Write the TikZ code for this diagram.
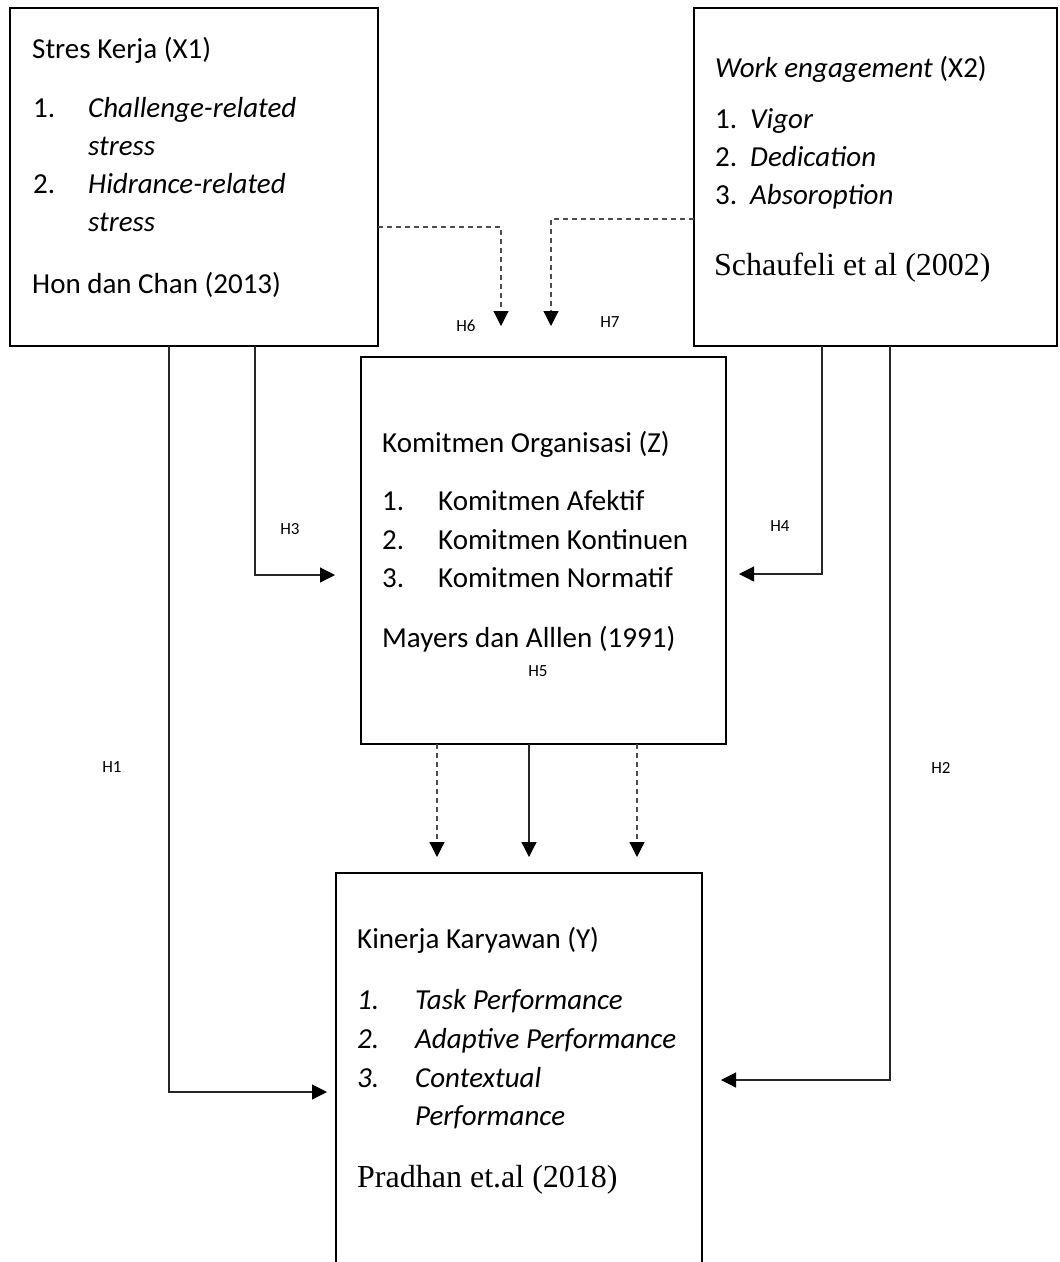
\documentclass[tikz,border=0pt]{standalone}
\usepackage{fontspec}
\setmainfont{Carlito}
\newfontfamily\reffont{Liberation Serif}
\usetikzlibrary{positioning,arrows.meta}
\begin{document}
\begin{tikzpicture}[x=1pt, y=-1pt,
    box/.style={draw, line width=2.4pt, anchor=north west, inner sep=0, outer sep=0},
    txt/.style={anchor=base west, inner sep=0, font=\fontsize{29}{35}\selectfont},
    cite/.style={anchor=base west, inner sep=0, font=\reffont\fontsize{32}{38}\selectfont},
    hyp/.style={inner sep=0, font=\fontsize{17}{20}\selectfont},
    link/.style={draw=black!85, line width=1.2pt, -{Triangle[length=15pt,width=15pt,black]}},
    dlink/.style={link, draw=black!70, dash pattern=on 5pt off 4pt}]
  \useasboundingbox (0,0) rectangle (1060,1262);
  \clip (0,0) rectangle (1060,1262);
  \node[box, minimum width=368pt, minimum height=338pt] (stres) at (10,8) {};
  \node[box, minimum width=363pt, minimum height=338pt] (engage) at (694,8) {};
  \node[box, minimum width=365pt, minimum height=387pt] (komit) at (361,357) {};
  \node[box, minimum width=366pt, minimum height=427pt] (kinerja) at (336,873) {};

  \node[txt] (x1head) at (32,58) {Stres Kerja (X1)};
  \node[txt] (x1n1) at (33,117) {1.};
  \node[txt] (x1t1) at (88,117) {\textit{Challenge-related}};
  \node[txt] (x1t1b) at (88,155) {\textit{stress}};
  \node[txt] (x1n2) at (33,193) {2.};
  \node[txt] (x1t2) at (88,193) {\textit{Hidrance-related}};
  \node[txt] (x1t2b) at (88,231) {\textit{stress}};
  \node[txt] (x1ref) at (32,293) {Hon dan Chan (2013)};

  \node[txt] (x2head) at (715,77) {\textit{Work engagement} (X2)};
  \foreach \i/\y/\t in {1/128/Vigor,2/166/Dedication,3/204/Absoroption}{
    \node[txt] (x2n\i) at (715,\y) {\i.};
    \node[txt] (x2t\i) at (750,\y) {\textit{\t}};}
  \node[cite] (x2ref) at (714,275) {Schaufeli et al (2002)};

  \node[txt] (zhead) at (382,452) {Komitmen Organisasi (Z)};
  \foreach \i/\y/\t in {1/510/Afektif,2/549/Kontinuen,3/587/Normatif}{
    \node[txt] (zn\i) at (382,\y) {\i.};
    \node[txt] (zt\i) at (438,\y) {Komitmen \t};}
  \node[txt] (zref) at (382,647) {Mayers dan Alllen (1991)};

  \node[txt] (yhead) at (357,948) {Kinerja Karyawan (Y)};
  \foreach \i/\y/\t in {1/1009/Task Performance,2/1048/Adaptive Performance,3/1087/Contextual}{
    \node[txt] (yn\i) at (357,\y) {\textit{\i.}};
    \node[txt] (yt\i) at (415,\y) {\textit{\t}};}
  \node[txt] (yt3b) at (415,1125) {\textit{Performance}};
  \node[cite] (yref) at (357,1187) {Pradhan et.al (2018)};

  \foreach \h/\x/\y in {1/112/767,2/941/768,3/290/529,4/780/526,5/538/671,6/466/326,7/610/322}
    \node[hyp] (hl\h) at (\x,\y) {H\h};

  \draw[link] ([xshift=159pt]stres.south west) |- ([xshift=-9pt,yshift=-5.5pt]kinerja.west);
  \draw[link] ([xshift=196pt]engage.south west) |- ([xshift=19pt,yshift=6.5pt]kinerja.east);
  \draw[link] ([xshift=245pt]stres.south west) |- ([xshift=-26pt,yshift=-24.5pt]komit.west);
  \draw[link] ([xshift=128pt]engage.south west) |- ([xshift=13pt,yshift=-23.5pt]komit.east);
  \draw[dlink] ([yshift=-50pt]stres.east) -| ([xshift=-42.5pt,yshift=31pt]komit.north);
  \draw[dlink] ([yshift=-42pt]engage.west) -| ([xshift=7.5pt,yshift=31pt]komit.north);
  \draw[dlink] ([xshift=-106.5pt]komit.south) -- ([xshift=-82pt,yshift=16pt]kinerja.north);
  \draw[link] ([xshift=-14.5pt]komit.south) -- ([xshift=10pt,yshift=16pt]kinerja.north);
  \draw[dlink] ([xshift=93.5pt]komit.south) -- ([xshift=118pt,yshift=16pt]kinerja.north);
\end{tikzpicture}
\end{document}
